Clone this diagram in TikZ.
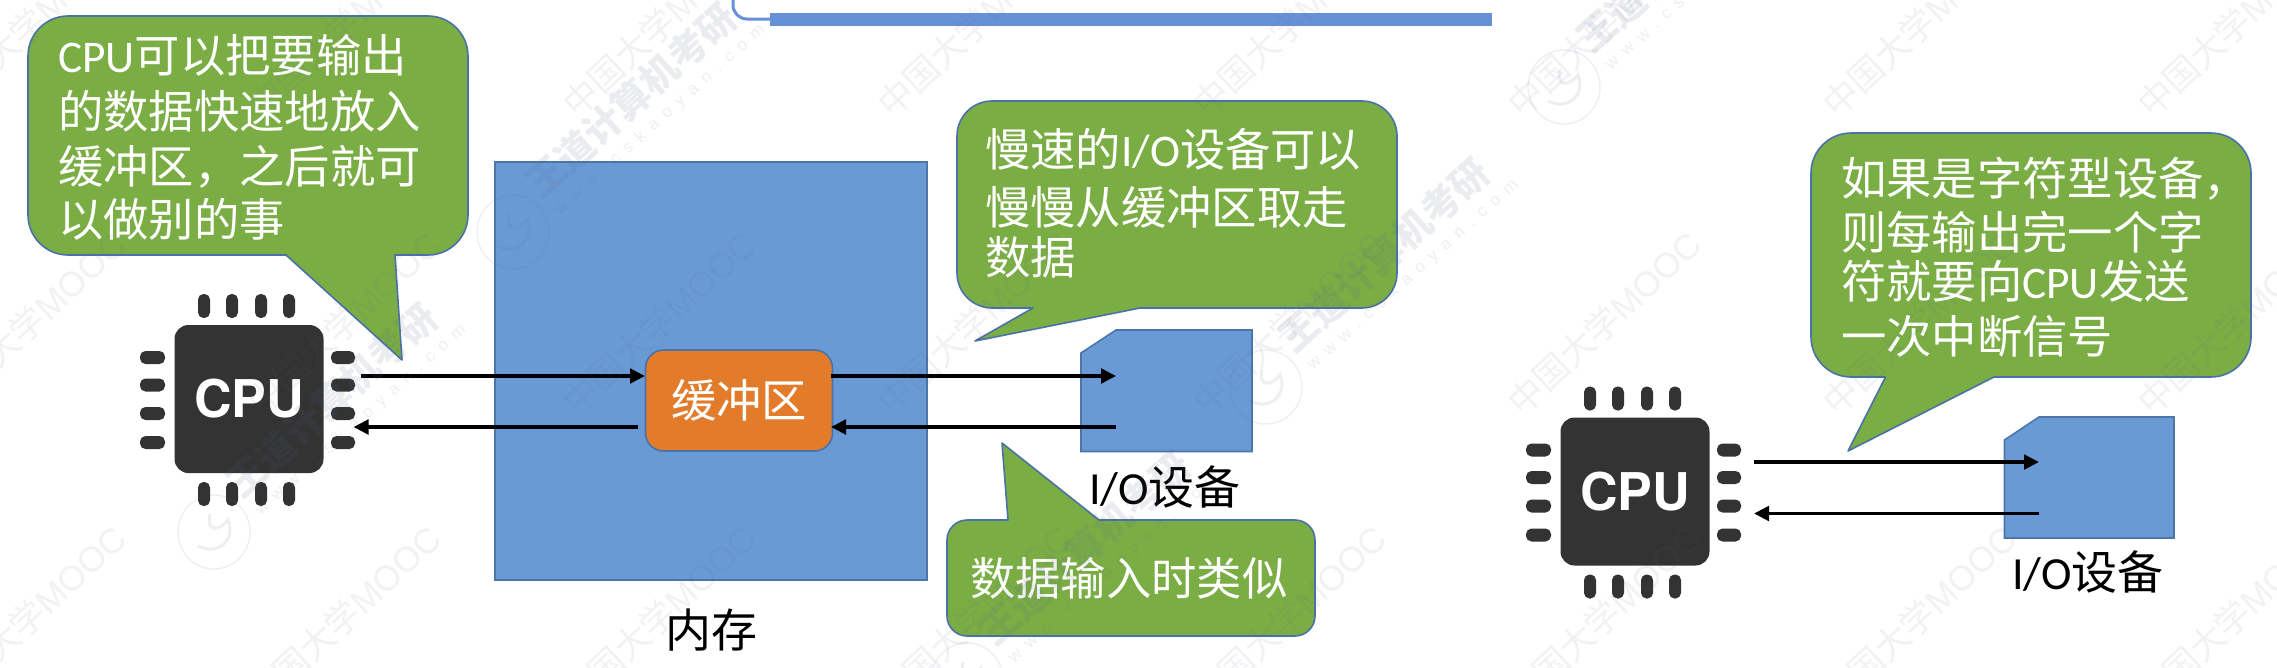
\documentclass[tikz,border=0pt]{standalone}
\usepackage{fontspec}
\setmainfont{Noto Sans CJK SC}
\newfontfamily\latf{Carlito}
\newfontfamily\chipf{TeX Gyre Heros}
\newfontfamily\wmlat{Liberation Sans}
\newfontfamily\wmurl{Liberation Sans}[LetterSpace=50]
\usetikzlibrary{arrows.meta}
\definecolor{bubfill}{HTML}{7AAD44}
\definecolor{bubedge}{HTML}{4A72A6}
\definecolor{memfill}{HTML}{6A9AD5}
\definecolor{memedge}{HTML}{4A76A8}
\definecolor{bufill}{HTML}{E27C2B}
\definecolor{chipdark}{HTML}{333333}
\definecolor{barblue}{HTML}{6691D8}
\definecolor{wmcol}{HTML}{5A6488}
\newcommand{\fs}[2]{\fontsize{#1}{#2}\selectfont}
\newcommand{\la}[1]{{\latf #1}}
\tikzset{
  x=1pt,y=-1pt,
  bubblestyle/.style={fill=bubfill,draw=bubedge,line width=1.6pt,line join=round},
  blockshape/.style={fill=memfill,draw=memedge,line width=1.6pt},
  lab/.style={inner sep=0pt,font=\fs{45.3}{56},text=white,align=left,anchor=west},
  blk/.style={inner sep=0pt,font=\fs{46}{50},text=black},
  flow/.style={line width=3.6pt,-{Triangle[length=15pt,width=14.5pt]}},
  pin/.style={fill=chipdark,rounded corners=5.5pt,draw=none},
  wm/.style={inner sep=0pt,text=wmcol,opacity=.08,font=\fs{35}{35}},
  wmb/.style={inner sep=0pt,text=wmcol,opacity=.12,font=\fs{38}{38}\bfseries},
  wmu/.style={inner sep=0pt,text=wmcol,opacity=.10,font=\wmurl\fs{17}{17}},
}
% x1,y1,x2,y2,r,top tail,bottom tail
\newcommand{\bubblebox}[7]{%
  \draw[bubblestyle] (#1+#5,#2) #6 -- (#3-#5,#2)
    .. controls (#3-.45*#5,#2) and (#3,#2+.45*#5) .. (#3,#2+#5) -- (#3,#4-#5)
    .. controls (#3,#4-.45*#5) and (#3-.45*#5,#4) .. (#3-#5,#4) #7 -- (#1+#5,#4)
    .. controls (#1+.45*#5,#4) and (#1,#4-.45*#5) .. (#1,#4-#5) -- (#1,#2+#5)
    .. controls (#1,#2+.45*#5) and (#1+.45*#5,#2) .. (#1+#5,#2) -- cycle;}
\newcommand{\chip}[3]{% name, dx, dy
  \begin{scope}[shift={(#2,#3)}]
    \foreach \px in {204,232,261,289}{
      \fill[pin] (\px-6,294) rectangle (\px+6,318);
      \fill[pin] (\px-6,482) rectangle (\px+6,506);}
    \foreach \py in {357.5,385,413.5,442.5}{
      \fill[pin] (140,\py-6.5) rectangle (165,\py+6.5);
      \fill[pin] (331,\py-6.5) rectangle (355,\py+6.5);}
    \node[fill=chipdark,rounded corners=14pt,minimum width=149pt,minimum height=148pt,inner sep=0pt,text=white,font=\chipf\bfseries\fs{52}{52}] (#1) at (249,399) {CPU};
  \end{scope}}
\begin{document}
\begin{tikzpicture}
\useasboundingbox (0,0) rectangle (2277,667);
\fill[white] (0,0) rectangle (2277,667);
% top bar
\draw[barblue,line width=3pt,rounded corners=14pt] (733,-4) -- (733,19) -- (772,19);
\fill[barblue] (770,13) rectangle (1492,25.5);
% memory
\node[blockshape,minimum width=432pt,minimum height=418pt,inner sep=0pt] (mem) at (711,371) {};
\node[blk] (memlab) at (711,630) {内存};
% buffer
\node[fill=bufill,draw=bubedge,line width=1.6pt,rounded corners=18pt,minimum width=187pt,minimum height=101pt,inner sep=0pt,text=white,font=\fs{45.3}{45}] (buf) at (739,400.5) {缓冲区};
% chips
\chip{cpuA}{0}{0}
\chip{cpuB}{1386}{92.5}
% io devices
\draw[blockshape] (1116,330) -- (1252,330) -- (1252,451.5) -- (1081,451.5) -- (1081,353) -- cycle;
\node[blk] (ioAlab) at (1165,487) {\la{I/O}设备};
\draw[blockshape] (2039,417) -- (2174,417) -- (2174,538) -- (2004.5,538) -- (2004.5,440) -- cycle;
\node[blk] (ioBlab) at (2088,572) {\la{I/O}设备};
% arrows
\coordinate (a1s) at (361,376); \coordinate (a1e) at (645,376);
\coordinate (a2s) at (638,427); \coordinate (a2e) at (353.5,427);
\coordinate (a3s) at (831,376); \coordinate (a3e) at (1116,376);
\coordinate (a4s) at (1116,427); \coordinate (a4e) at (831,427);
\coordinate (a5s) at (1754,462); \coordinate (a5e) at (2039,462);
\coordinate (a6s) at (2039,513.5); \coordinate (a6e) at (1754,513.5);
\draw[flow] (a1s) -- (a1e);
\draw[flow] (a2s) -- (a2e);
\draw[flow] (a3s) -- (a3e);
\draw[flow] (a4s) -- (a4e);
\draw[flow] (a5s) -- (a5e);
\draw[flow] (a6s) -- (a6e);
% callouts
\bubblebox{28}{16}{468}{255}{40}{}{-- (395,255) -- (402,360) -- (286,255)}
\node[lab] (t1a) at (58,55) {\la{CPU}可以把要输出};
\node[lab] (t1b) at (58,111) {的数据快速地放入};
\node[lab] (t1c) at (58,167) {缓冲区，之后就可};
\node[lab] (t1d) at (58,219) {以做别的事};
\bubblebox{957}{101}{1397}{308}{35}{}{-- (1140,308) -- (975,341) -- (1033,308)}
\node[lab] (t2a) at (985,149) {慢速的\la{I/O}设备可以};
\node[lab] (t2b) at (985,207) {慢慢从缓冲区取走};
\node[lab] (t2c) at (985,257) {数据};
\bubblebox{947}{520}{1315}{636}{20}{-- (1008,520) -- (1002,443) -- (1099,520)}{}
\node[lab] (t3a) at (970,578) {数据输入时类似};
\bubblebox{1811}{133}{2251}{377}{40}{}{-- (1994,377) -- (1848,451) -- (1885.5,377)}
\node[lab] (t4a) at (1841,179) {如果是字符型设备，};
\node[lab] (t4b) at (1841,232) {则每输出完一个字};
\node[lab] (t4c) at (1841,281) {符就要向\la{CPU}发送};
\node[lab] (t4d) at (1841,336) {一次中断信号};
% watermarks
\foreach \cy in {25,323,617}{
  \foreach \k in {-1,...,6}{
    \node[wm,rotate=43] at ({344+315*\k},\cy) {中国大学{\wmlat MOOC}};
  }}
\foreach \lx/\ly in {214/532,513/232,967/680,1266/387,1564/87}{
  \node[wmb,rotate=42] at (\lx+118,\ly-132) {王道计算机考研};
  \node[wmu,rotate=42] at (\lx+147,\ly-112) {www.cskaoyan.com};
  \draw[wmcol,opacity=.10,line width=1.4pt] (\lx,\ly) ellipse [x radius=36pt,y radius=37pt];
  \draw[wmcol,opacity=.10,line width=3pt] (\lx-16,\ly+14) .. controls (\lx+4,\ly+24) and (\lx+22,\ly+8) .. (\lx+14,\ly-12) .. controls (\lx+6,\ly-2) and (\lx-8,\ly+2) .. (\lx-4,\ly-18);
}
\end{tikzpicture}
\end{document}
